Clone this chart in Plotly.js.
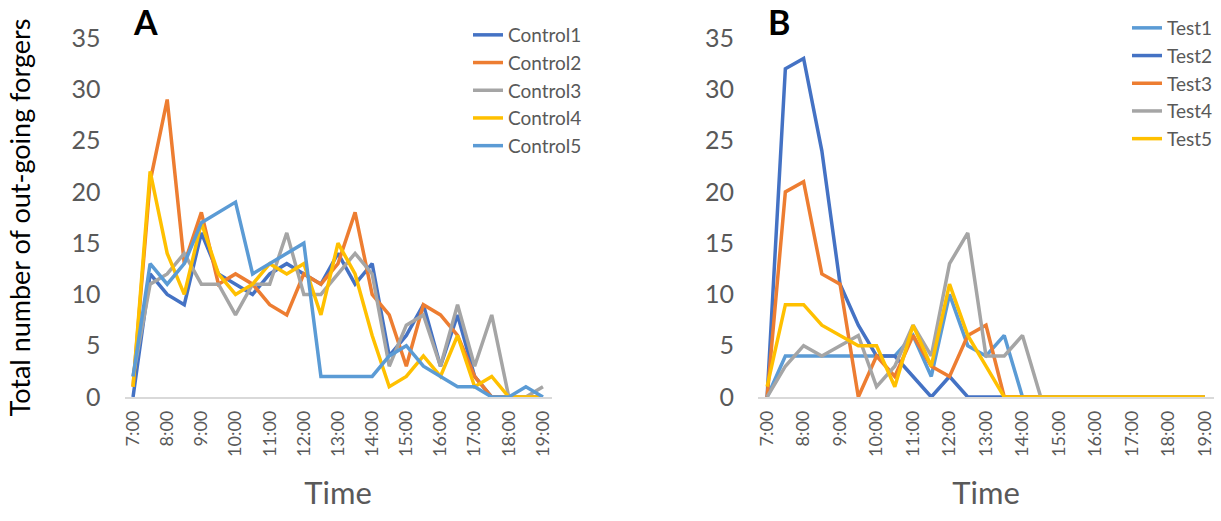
<!DOCTYPE html>
<html>
<head>
<meta charset="utf-8">
<script src="https://cdn.plot.ly/plotly-3.0.1.min.js"></script>
<style>html,body{margin:0;padding:0;background:#fff;}#chart{width:1221px;height:521px;}</style>
</head>
<body>
<div id="chart"></div>
<script>
// Half-hour categories
var times = ['7:00','7:30','8:00','8:30','9:00','9:30','10:00','10:30','11:00','11:30','12:00','12:30','13:00','13:30','14:00','14:30','15:00','15:30','16:00','16:30','17:00','17:30','18:00','18:30','19:00'];
var tickLabels = ['7:00','8:00','9:00','10:00','11:00','12:00','13:00','14:00','15:00','16:00','17:00','18:00','19:00'];

// Panel A (control colonies)
var control1 = [0,12,10,9,16,12,11,10,12,13,12,11,14,11,13,4,6,9,3,8,2,0,0,0,0];
var control2 = [1,21,29,13,18,11,12,11,9,8,12,11,13,18,10,8,3,9,8,6,2,0,0,0,0];
var control3 = [2,11,12,14,11,11,8,11,11,16,10,10,12,14,12,3,7,8,3,9,3,8,0,0,1];
var control4 = [1,22,14,10,17,12,10,11,13,12,13,8,15,12,6,1,2,4,2,6,1,2,0,0,0];
var control5 = [2,13,11,13,17,18,19,12,13,14,15,2,2,2,2,4,5,3,2,1,1,0,0,1,0];

// Panel B (test colonies)
var test1 = [0,4,4,4,4,4,4,4,6,2,10,5,4,6,0,0,0,0,0,0,0,0,0,0,0];
var test2 = [0,32,33,24,11,7,4,4,2,0,2,0,0,0,0,0,0,0,0,0,0,0,0,0,0];
var test3 = [0,20,21,12,11,0,4,2,6,3,2,6,7,0,0,0,0,0,0,0,0,0,0,0,0];
var test4 = [0,3,5,4,5,6,1,3,7,4,13,16,4,4,6,0,0,0,0,0,0,0,0,0,0];
var test5 = [1,9,9,7,6,5,5,1,7,3,11,6,3,0,0,0,0,0,0,0,0,0,0,0,0];

var seriesA = [['Control1', control1, '#4472C4'], ['Control2', control2, '#ED7D31'], ['Control3', control3, '#A5A5A5'], ['Control4', control4, '#FFC000'], ['Control5', control5, '#5B9BD5']];
var seriesB = [['Test1', test1, '#5B9BD5'], ['Test2', test2, '#4472C4'], ['Test3', test3, '#ED7D31'], ['Test4', test4, '#A5A5A5'], ['Test5', test5, '#FFC000']];

var traces = [];
seriesA.forEach(function (s) {
  traces.push({x: times, y: s[1], name: s[0], type: 'scatter', mode: 'lines',
    line: {color: s[2], width: 3.5}, xaxis: 'x', yaxis: 'y', legend: 'legend', legendgroup: s[0]});
});
seriesB.forEach(function (s) {
  traces.push({x: times, y: s[1], name: s[0], type: 'scatter', mode: 'lines',
    line: {color: s[2], width: 3.5}, xaxis: 'x2', yaxis: 'y2', legend: 'legend2', legendgroup: s[0]});
});

var FONT = 'Lato, "Open Sans", sans-serif';
var GREY = '#595959';
var W = 1221, H = 521;

function xAxis(d0, d1, anchor) {
  return {
    type: 'category', domain: [d0 / W, d1 / W], anchor: anchor,
    range: [-0.5, times.length - 0.5],
    tickmode: 'array', tickvals: tickLabels, ticktext: tickLabels,
    tickangle: -90, tickfont: {family: FONT, size: 18, color: GREY},
    ticklabelstandoff: 5,
    showline: true, linecolor: '#D9D9D9', linewidth: 1.5,
    showgrid: false, zeroline: false, ticks: '',
    title: {text: 'Time', font: {family: FONT, size: 31, color: GREY}, standoff: 26},
    fixedrange: true
  };
}
function yAxis(anchor, withTitle) {
  var a = {
    domain: [(H - 397) / H, (H - 38) / H], anchor: anchor,
    range: [0, 35], tickmode: 'linear', tick0: 0, dtick: 5,
    tickfont: {family: FONT, size: 25, color: GREY},
    ticklabelstandoff: 23,
    showline: false, showgrid: false, zeroline: false, ticks: '',
    fixedrange: true
  };
  if (withTitle) {
    a.title = {text: 'Total number of out-going forgers', font: {family: FONT, size: 27, color: '#000000'}, standoff: 33};
  }
  return a;
}

var layout = {
  width: W, height: H,
  margin: {l: 0, r: 0, t: 0, b: 0},
  paper_bgcolor: '#ffffff', plot_bgcolor: '#ffffff',
  showlegend: true,
  xaxis: xAxis(124.5, 551.5, 'y'),
  yaxis: yAxis('x', true),
  xaxis2: xAxis(758, 1214, 'y2'),
  yaxis2: yAxis('x2', false),
  legend: {x: 468 / W, y: 1 - 16 / H, xanchor: 'left', yanchor: 'top',
    font: {family: FONT, size: 19, color: GREY}, bgcolor: 'rgba(0,0,0,0)',
    traceorder: 'normal', tracegroupgap: 0},
  legend2: {x: 1127 / W, y: 1 - 9 / H, xanchor: 'left', yanchor: 'top',
    font: {family: FONT, size: 19, color: GREY}, bgcolor: 'rgba(0,0,0,0)',
    traceorder: 'normal', tracegroupgap: 0},
  annotations: [
    {text: '<b>A</b>', xref: 'paper', yref: 'paper', x: 131 / W, y: 1 - 22 / H, xanchor: 'left', yanchor: 'middle',
      showarrow: false, font: {family: FONT, size: 34, color: '#000000'}},
    {text: '<b>B</b>', xref: 'paper', yref: 'paper', x: 766 / W, y: 1 - 22 / H, xanchor: 'left', yanchor: 'middle',
      showarrow: false, font: {family: FONT, size: 34, color: '#000000'}}
  ]
};

Plotly.newPlot('chart', traces, layout, {displayModeBar: false, staticPlot: true});
</script>
</body>
</html>
